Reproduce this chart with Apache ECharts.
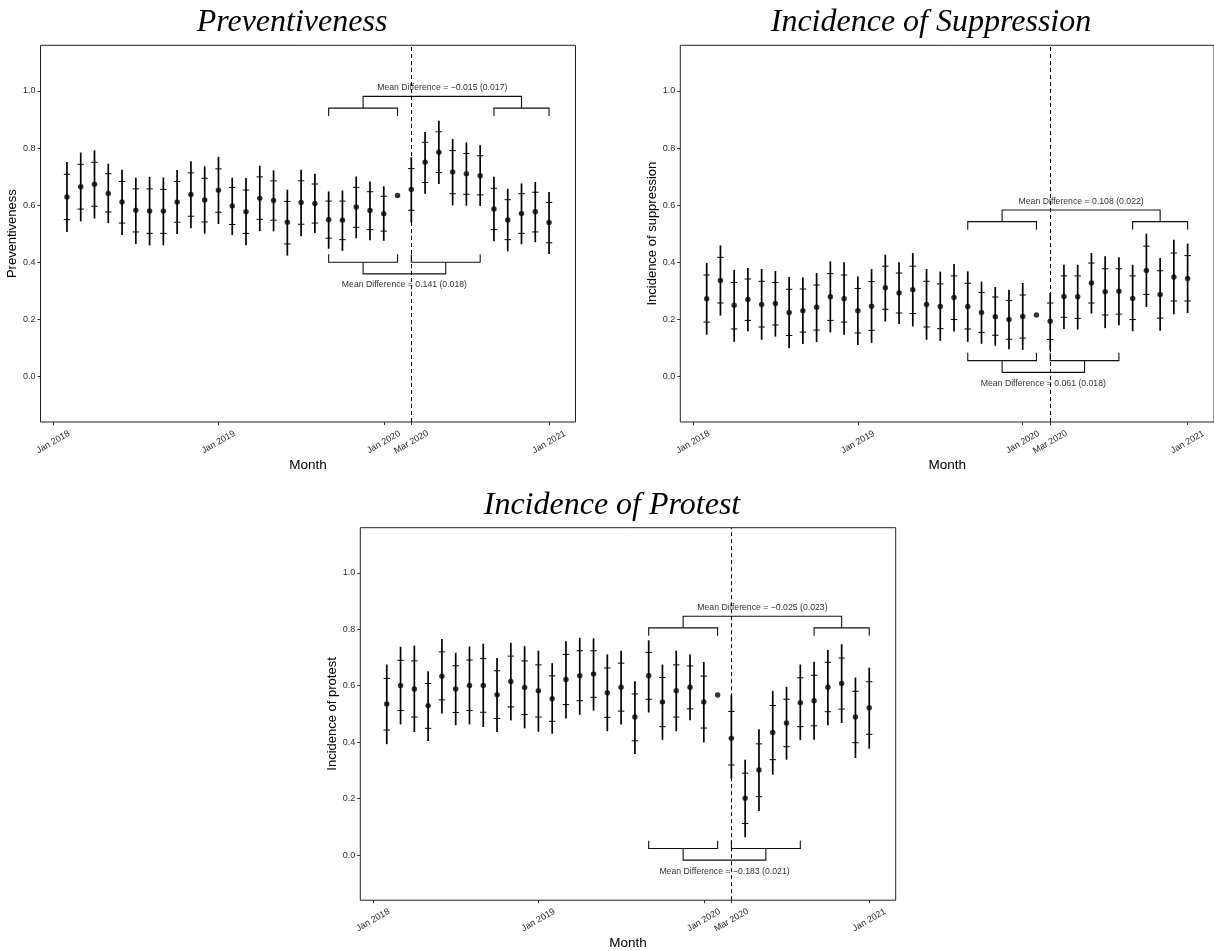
<!DOCTYPE html>
<html><head><meta charset="utf-8">
<script src="https://cdn.jsdelivr.net/npm/echarts@6/dist/echarts.min.js"></script>
<style>html,body{margin:0;padding:0;background:#fff}#chart{width:1214px;height:951px}</style>
</head><body><div id="chart"></div>
<script>
// ---------- data ----------
const monthLabels = ['Feb 2018','Mar 2018','Apr 2018','May 2018','Jun 2018','Jul 2018','Aug 2018','Sep 2018','Oct 2018','Nov 2018','Dec 2018','Jan 2019',
  'Feb 2019','Mar 2019','Apr 2019','May 2019','Jun 2019','Jul 2019','Aug 2019','Sep 2019','Oct 2019','Nov 2019','Dec 2019','Jan 2020',
  'Feb 2020','Mar 2020','Apr 2020','May 2020','Jun 2020','Jul 2020','Aug 2020','Sep 2020','Oct 2020','Nov 2020','Dec 2020','Jan 2021'];
const xTickMonths = [0, 12, 24, 26, 36];   // months since Jan 2018
const xTickLabels = ['Jan 2018','Jan 2019','Jan 2020','Mar 2020','Jan 2021'];
const yTickValues = [0, 0.2, 0.4, 0.6, 0.8, 1.0];
const treatmentMonth = 26; // Mar 2020

// Preventiveness
const prevEst  = [0.628,0.664,0.673,0.641,0.611,0.582,0.579,0.579,0.611,0.637,0.618,0.652, 0.597,0.577,0.624,0.616,0.540,0.609,0.606,0.549,0.547,0.593,0.581,0.570, 0.634, 0.655,0.750,0.785,0.716,0.710,0.703,0.586,0.548,0.571,0.577,0.539];
const prevHi90 = [0.708,0.743,0.750,0.710,0.683,0.657,0.657,0.655,0.683,0.713,0.694,0.727, 0.662,0.653,0.699,0.685,0.613,0.685,0.674,0.614,0.614,0.662,0.647,0.631, null, 0.728,0.820,0.857,0.791,0.781,0.773,0.659,0.619,0.640,0.645,0.609];
const prevLo90 = [0.549,0.586,0.596,0.576,0.537,0.506,0.501,0.501,0.540,0.561,0.541,0.575, 0.532,0.501,0.550,0.547,0.464,0.533,0.537,0.484,0.479,0.522,0.514,0.509, null, 0.582,0.679,0.714,0.640,0.638,0.636,0.514,0.479,0.501,0.506,0.468];
const prevHi95 = [0.751,0.784,0.792,0.745,0.724,0.696,0.699,0.697,0.723,0.754,0.736,0.769, 0.696,0.695,0.738,0.722,0.654,0.724,0.710,0.648,0.651,0.700,0.683,0.666, null, 0.768,0.856,0.896,0.832,0.820,0.810,0.699,0.657,0.676,0.681,0.646];
const prevLo95 = [0.506,0.543,0.553,0.537,0.495,0.464,0.459,0.459,0.499,0.519,0.500,0.534, 0.495,0.459,0.509,0.508,0.423,0.491,0.502,0.447,0.440,0.484,0.477,0.475, null, 0.539,0.640,0.674,0.599,0.598,0.597,0.473,0.438,0.463,0.470,0.429];

// Incidence of suppression
const suppEst  = [0.272,0.336,0.249,0.269,0.252,0.255,0.224,0.230,0.242,0.279,0.272,0.230, 0.246,0.310,0.292,0.303,0.252,0.245,0.276,0.245,0.224,0.209,0.199,0.210, 0.215, 0.193,0.280,0.279,0.327,0.296,0.298,0.273,0.371,0.287,0.348,0.343];
const suppHi90 = [0.355,0.417,0.329,0.341,0.333,0.329,0.305,0.306,0.320,0.360,0.355,0.308, 0.332,0.386,0.362,0.386,0.333,0.324,0.352,0.326,0.294,0.278,0.266,0.285, null, 0.257,0.352,0.352,0.397,0.377,0.377,0.352,0.456,0.370,0.432,0.423];
const suppLo90 = [0.190,0.257,0.166,0.196,0.173,0.180,0.143,0.155,0.162,0.196,0.190,0.152, 0.161,0.235,0.222,0.220,0.173,0.167,0.199,0.166,0.154,0.144,0.130,0.134, null, 0.129,0.207,0.203,0.257,0.215,0.218,0.199,0.287,0.204,0.264,0.264];
const suppHi95 = [0.397,0.459,0.373,0.380,0.376,0.369,0.348,0.346,0.362,0.403,0.400,0.350, 0.376,0.426,0.400,0.432,0.376,0.367,0.394,0.368,0.332,0.313,0.303,0.327, null, 0.292,0.391,0.391,0.432,0.421,0.417,0.391,0.500,0.415,0.479,0.465];
const suppLo95 = [0.146,0.213,0.121,0.158,0.128,0.139,0.098,0.113,0.120,0.154,0.146,0.110, 0.117,0.192,0.183,0.175,0.128,0.124,0.157,0.121,0.114,0.107,0.095,0.093, null, 0.090,0.166,0.164,0.220,0.169,0.179,0.158,0.243,0.160,0.218,0.222];

// Incidence of protest
const protEst  = [0.535,0.601,0.588,0.529,0.634,0.588,0.601,0.601,0.568,0.615,0.594,0.582, 0.554,0.622,0.635,0.642,0.575,0.595,0.489,0.635,0.542,0.582,0.595,0.542, 0.567, 0.414,0.201,0.301,0.434,0.468,0.540,0.547,0.595,0.608,0.489,0.522];
const protHi90 = [0.626,0.690,0.688,0.608,0.720,0.671,0.691,0.696,0.653,0.705,0.688,0.674, 0.635,0.711,0.724,0.724,0.663,0.680,0.571,0.718,0.629,0.674,0.670,0.634, null, 0.509,0.290,0.394,0.530,0.552,0.628,0.637,0.683,0.698,0.580,0.614];
const protLo90 = [0.443,0.512,0.489,0.449,0.550,0.505,0.512,0.506,0.484,0.525,0.498,0.489, 0.474,0.533,0.547,0.559,0.488,0.510,0.405,0.552,0.455,0.489,0.518,0.450, null, 0.319,0.112,0.207,0.338,0.384,0.455,0.458,0.508,0.517,0.398,0.428];
const protHi95 = [0.675,0.738,0.742,0.651,0.766,0.717,0.739,0.749,0.698,0.752,0.740,0.724, 0.680,0.758,0.770,0.768,0.711,0.724,0.616,0.761,0.675,0.724,0.711,0.684, null, 0.568,0.338,0.446,0.582,0.596,0.675,0.685,0.727,0.747,0.629,0.664];
const protLo95 = [0.393,0.463,0.436,0.404,0.502,0.460,0.463,0.454,0.436,0.477,0.449,0.437, 0.430,0.484,0.497,0.512,0.439,0.463,0.358,0.505,0.408,0.439,0.478,0.399, null, 0.270,0.063,0.156,0.285,0.338,0.407,0.409,0.460,0.468,0.344,0.377];

// comparison windows (months since Jan 2018)
const preWindow  = [20, 25];
const postWindow = [26, 31];
const lateWindow = [32, 36];
const panelTitles = ['Preventiveness', 'Incidence of Suppression', 'Incidence of Protest'];
const yAxisNames  = ['Preventiveness', 'Incidence of suppression', 'Incidence of protest'];
const upperTexts = ['Mean Difference = \u22120.015 (0.017)', 'Mean Difference = 0.108 (0.022)', 'Mean Difference = \u22120.025 (0.023)'];
const lowerTexts = ['Mean Difference = 0.141 (0.018)', 'Mean Difference = 0.061 (0.018)', 'Mean Difference = \u22120.183 (0.021)'];
const upperBracketY = [0.94, 0.542, 0.805];
const lowerBracketY = [0.40, 0.055, 0.023];

// ---------- layout ----------
const grids = [
  {left: 40.5, top: 45.3, width: 535, height: 376.7},
  {left: 680.3, top: 45.3, width: 535, height: 376.7},
  {left: 360.3, top: 527.7, width: 535.4, height: 376}
];
const titleCenters = [[292, 23], [931, 23], [612, 505.5]];

const panels = [
  [prevEst, prevLo95, prevHi95, prevLo90, prevHi90],
  [suppEst, suppLo95, suppHi95, suppLo90, suppHi90],
  [protEst, protLo95, protHi95, protLo90, protHi90]
];

const FONT = '"Liberation Sans", Arial, Helvetica, sans-serif';
const series = [], xAxes = [], yAxes = [], gridOpts = [], graphics = [];

function errRender(params, api) {
  const x = api.value(0);
  const pTop = api.coord([x, api.value(2)]), pBot = api.coord([x, api.value(1)]);
  const pHi = api.coord([x, api.value(4)]), pLo = api.coord([x, api.value(3)]);
  const w = 3.2;
  return {type: 'group', children: [
    {type: 'line', shape: {x1: pTop[0], y1: pTop[1], x2: pBot[0], y2: pBot[1]}, style: {stroke: '#000', lineWidth: 1.7}},
    {type: 'line', shape: {x1: pHi[0] - w, y1: pHi[1], x2: pHi[0] + w, y2: pHi[1]}, style: {stroke: '#000', lineWidth: 1}},
    {type: 'line', shape: {x1: pLo[0] - w, y1: pLo[1], x2: pLo[0] + w, y2: pLo[1]}, style: {stroke: '#000', lineWidth: 1}}
  ]};
}
function bracketRender(params, api) {
  const x1 = api.value(0), x2 = api.value(1), yl = api.value(2), yt = api.value(3);
  const a = api.coord([x1, yt]), b = api.coord([x1, yl]), c = api.coord([x2, yl]), d = api.coord([x2, yt]);
  return {type: 'polyline', shape: {points: [a, b, c, d]}, style: {stroke: '#111', lineWidth: 1.1, fill: null}};
}

panels.forEach((p, k) => {
  const [est, lo95, hi95, lo90, hi90] = p;
  gridOpts.push(Object.assign({show: true, borderColor: '#222', borderWidth: 1, backgroundColor: 'transparent'}, grids[k]));
  xAxes.push({
    type: 'value', gridIndex: k, min: -0.92, max: 37.92, position: 'bottom',
    axisLine: {show: false, onZero: false}, splitLine: {show: false},
    axisTick: {show: true, customValues: xTickMonths, length: 3, lineStyle: {color: '#333', width: 1}},
    axisLabel: {customValues: xTickMonths, formatter: v => xTickLabels[xTickMonths.indexOf(v)] || '',
      rotate: 30, align: 'center', verticalAlign: 'middle', margin: 20, fontSize: 9, color: '#2b2b2b', fontFamily: FONT},
    name: 'Month', nameLocation: 'middle', nameGap: 31,
    nameTextStyle: {fontSize: 13.5, color: '#000', fontFamily: FONT}
  });
  yAxes.push({
    type: 'value', gridIndex: k, min: -0.16, max: 1.16, position: 'left',
    axisLine: {show: false, onZero: false}, splitLine: {show: false},
    axisTick: {show: true, customValues: yTickValues, length: 3, lineStyle: {color: '#333', width: 1}},
    axisLabel: {customValues: yTickValues, formatter: v => v.toFixed(1), fontSize: 9, color: '#2b2b2b', margin: 5, fontFamily: FONT},
    name: yAxisNames[k], nameLocation: 'middle', nameGap: 19,
    nameTextStyle: {fontSize: 13, color: '#000', fontFamily: FONT}
  });
  const errData = [];
  est.forEach((v, i) => { if (lo95[i] != null) errData.push([i + 1, lo95[i], hi95[i], lo90[i], hi90[i]]); });
  series.push({type: 'custom', xAxisIndex: k, yAxisIndex: k, renderItem: errRender, data: errData,
    encode: {x: 0, y: [1, 2]}, silent: true, animation: false});
  series.push({type: 'scatter', xAxisIndex: k, yAxisIndex: k, symbol: 'circle', symbolSize: 5.5,
    itemStyle: {color: '#000'}, data: est.map((v, i) => [i + 1, v]), silent: true, animation: false, z: 3,
    markLine: {silent: true, symbol: ['none', 'none'], label: {show: false}, animation: false,
      lineStyle: {type: [4, 3], color: '#000', width: 1}, data: [{xAxis: treatmentMonth}]}});
  const uy = upperBracketY[k], ly = lowerBracketY[k];
  const preMid = (preWindow[0] + preWindow[1]) / 2, postMid = (postWindow[0] + postWindow[1]) / 2, lateMid = (lateWindow[0] + lateWindow[1]) / 2;
  const bracketData = [
    [preWindow[0], preWindow[1], uy, uy - 0.028],
    [lateWindow[0], lateWindow[1], uy, uy - 0.028],
    [preMid, lateMid, uy + 0.041, uy],
    [preWindow[0], preWindow[1], ly, ly + 0.028],
    [postWindow[0], postWindow[1], ly, ly + 0.028],
    [preMid, postMid, ly - 0.041, ly]
  ];
  series.push({type: 'custom', xAxisIndex: k, yAxisIndex: k, renderItem: bracketRender, data: bracketData,
    encode: {x: [0, 1], y: [2, 3]}, silent: true, animation: false});
  const textData = [[(preMid + lateMid) / 2, uy + 0.072], [(preMid + postMid) / 2, ly - 0.08]];
  const texts = [upperTexts[k], lowerTexts[k]];
  series.push({type: 'custom', xAxisIndex: k, yAxisIndex: k, data: textData, encode: {x: 0, y: 1},
    silent: true, animation: false,
    renderItem: (params, api) => {
      const pt = api.coord([api.value(0), api.value(1)]);
      return {type: 'text', x: pt[0], y: pt[1], style: {text: texts[params.dataIndex], fill: '#333',
        font: '8.7px ' + FONT, align: 'center', verticalAlign: 'middle'}};
    }});
  graphics.push({type: 'text', x: titleCenters[k][0], y: titleCenters[k][1], silent: true,
    style: {text: panelTitles[k], fill: '#000', font: 'italic 32px "Liberation Serif", "Times New Roman", serif',
      align: 'center', verticalAlign: 'middle'}});
});

const chart = echarts.init(document.getElementById('chart'), null, {renderer: 'canvas'});
chart.setOption({
  animation: false,
  backgroundColor: '#fff',
  grid: gridOpts, xAxis: xAxes, yAxis: yAxes, series: series, graphic: graphics
});
</script></body></html>
